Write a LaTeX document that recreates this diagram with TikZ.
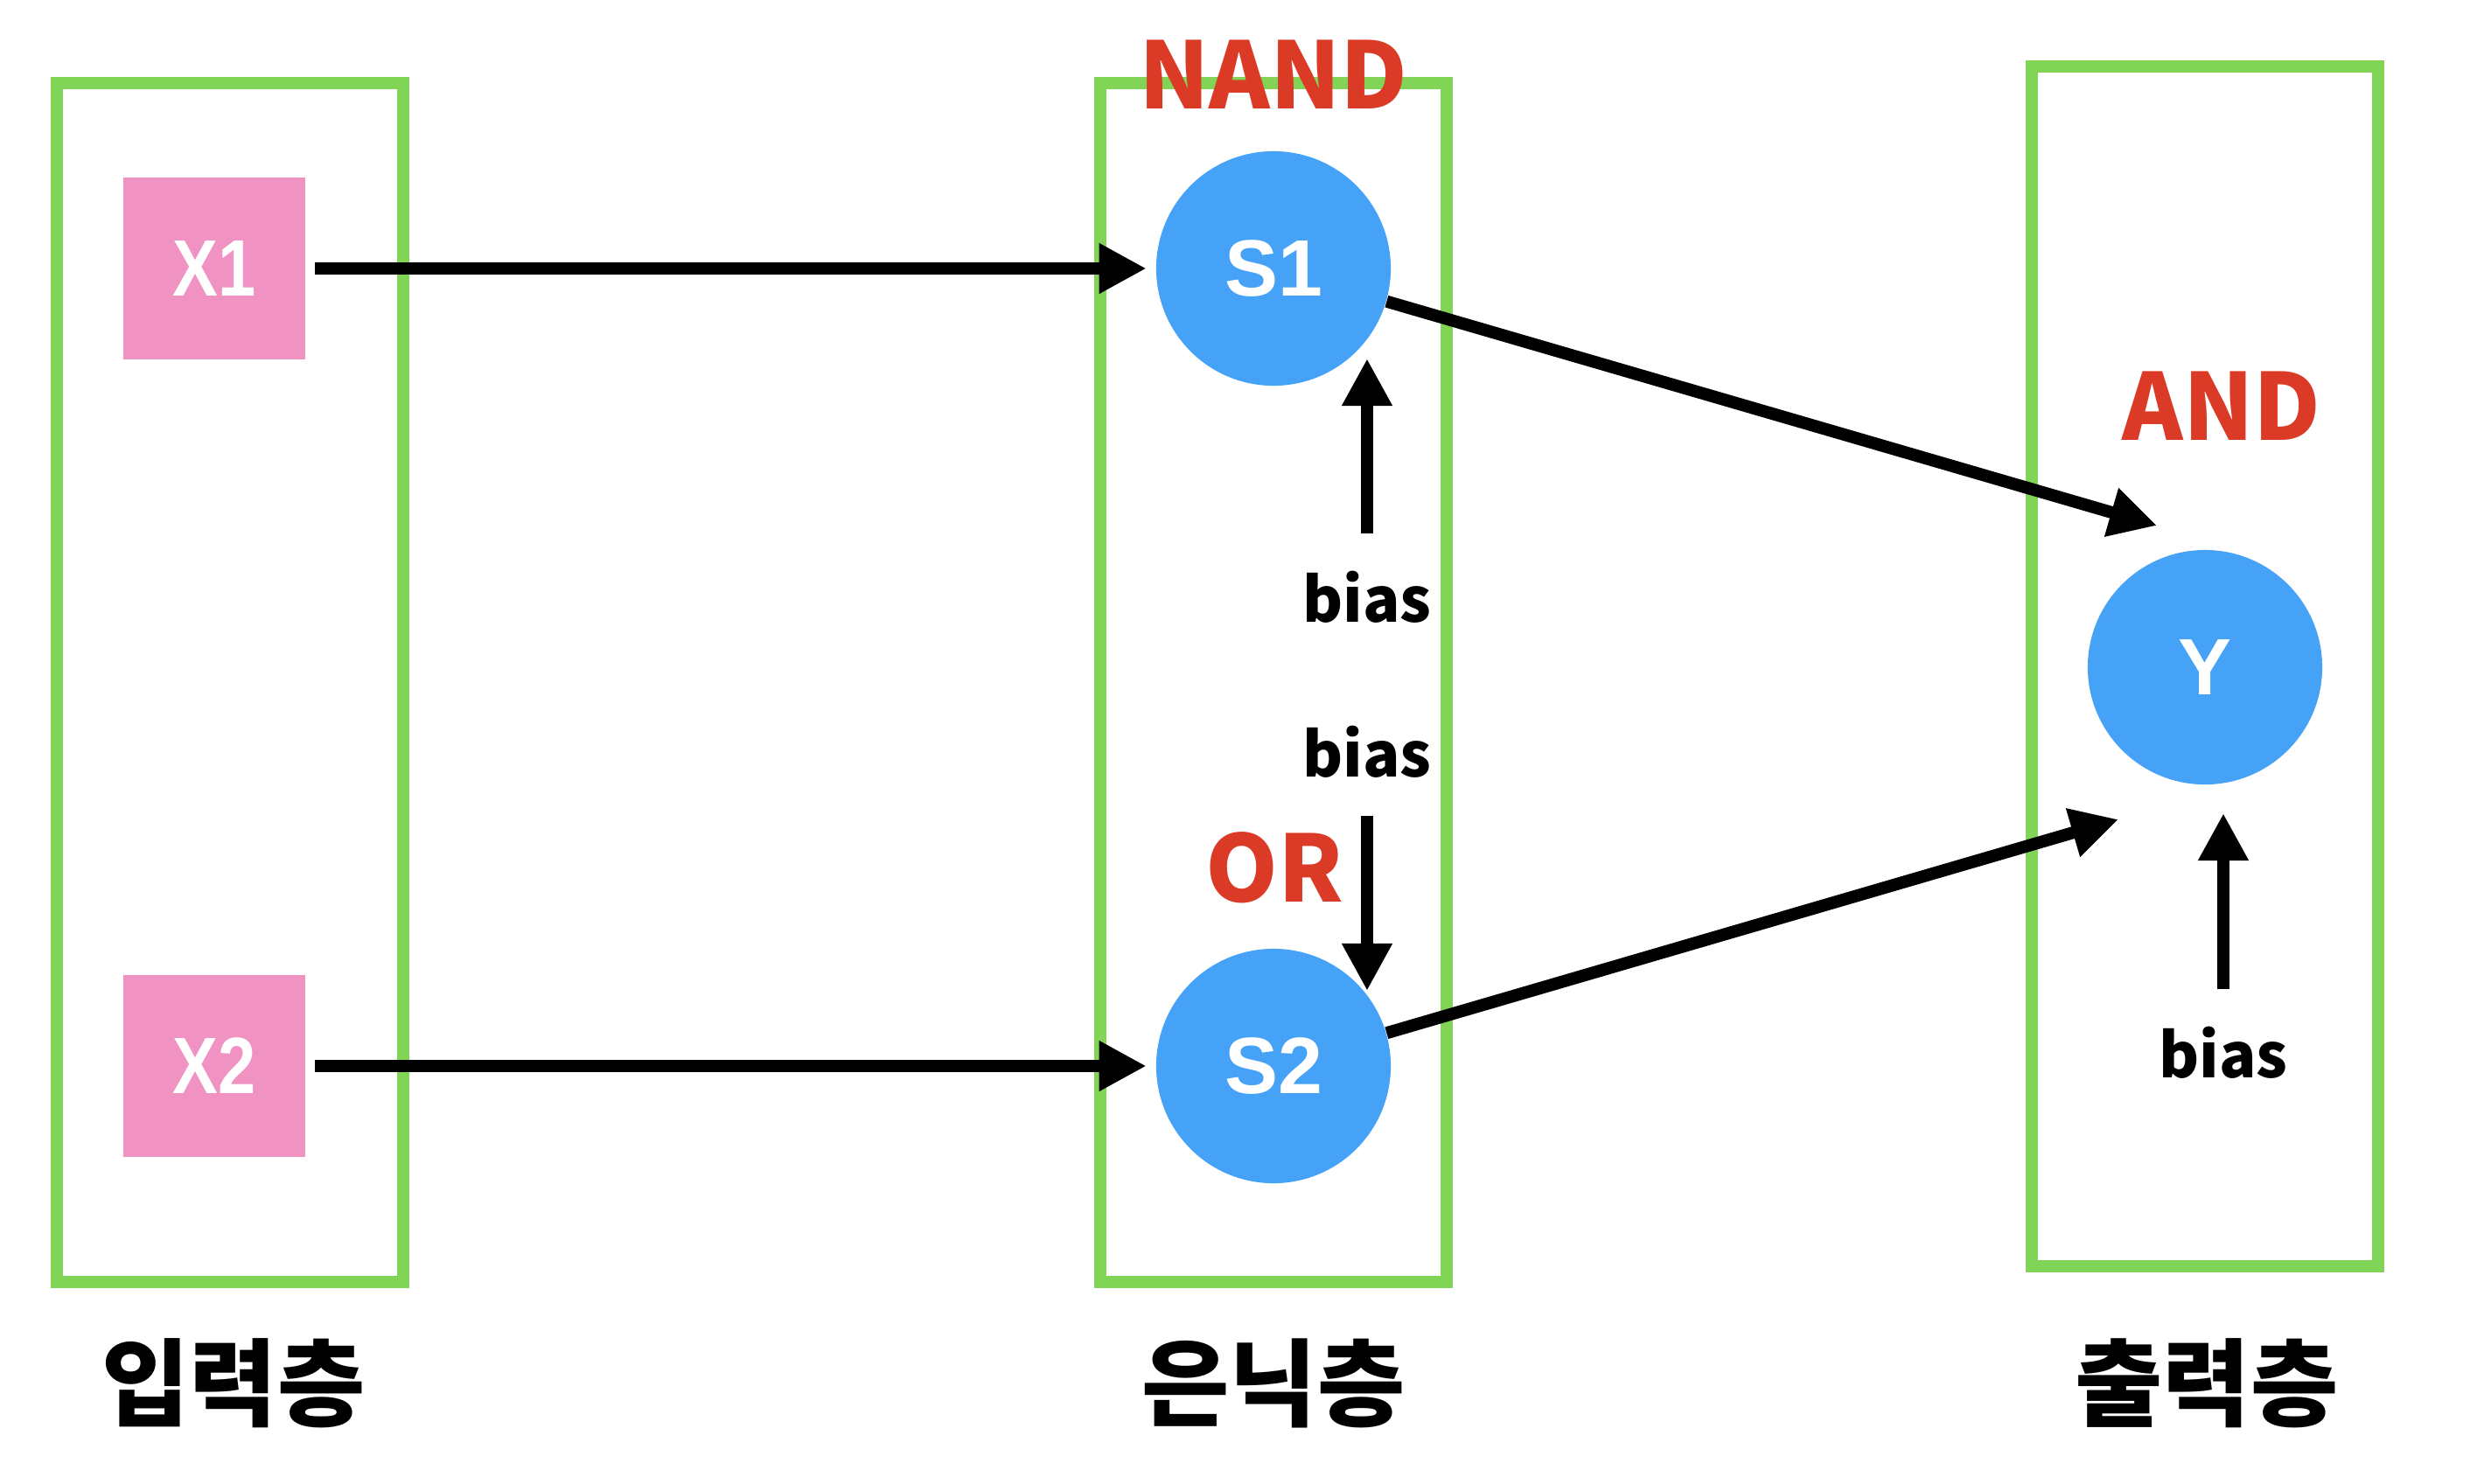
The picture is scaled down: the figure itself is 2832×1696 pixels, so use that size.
\documentclass[tikz,border=0pt]{standalone}
\usepackage{fontspec}
\usepackage{tikz}
\usetikzlibrary{arrows.meta}
\newfontfamily\kofont{Noto Sans CJK KR}
\newfontfamily\unitfont{Liberation Sans}
\newfontfamily\narrowfont{Liberation Sans}[FakeStretch=0.85]
\definecolor{layergreen}{RGB}{130,212,87}
\definecolor{inputpink}{RGB}{240,147,195}
\definecolor{unitblue}{RGB}{69,162,246}
\definecolor{gatered}{RGB}{219,58,39}

\begin{document}
\begin{tikzpicture}
[x=0.01cm, y=-0.01cm,
layer/.style={draw=layergreen, line width=4pt},
input/.style={fill=inputpink, minimum size=2.07cm, inner sep=0pt, text=white, font=\narrowfont\bfseries\fontsize{26}{26}\selectfont},
unit/.style={circle, fill=unitblue, minimum size=2.68cm, inner sep=0pt, text=white, font=\unitfont\bfseries\fontsize{26}{26}\selectfont},
gate/.style={inner sep=0pt, text=gatered, font=\kofont\bfseries\fontsize{30}{30}\selectfont},
biastext/.style={inner sep=0pt, font=\kofont\bfseries\fontsize{20}{20}\selectfont},
layer name/.style={inner sep=0pt, font=\kofont\bfseries\fontsize{31}{31}\selectfont},
link/.style={line width=4pt, -{Triangle[length=15.4pt,width=15.4pt]}}]
\useasboundingbox (0,0) rectangle (2832,1696);
% layers
\draw[layer] (65,95) rectangle (461,1466);
\draw[layer] (1258,95) rectangle (1654,1466);
\draw[layer] (2323,76) rectangle (2719,1448);
% units
\node[input] (x1) at (245,307) {X1};
\node[input] (x2) at (245,1219) {X2};
\node[unit] (s1) at (1456,307) {S1};
\node[unit] (s2) at (1456,1219) {S2};
\node[unit] (y) at (2521,763) {Y};
% gate names
\node[gate] (nand) at (1456,85) {NAND};
\node[gate] (or) at (1457,992) {OR};
\node[gate] (and) at (2540,464) {AND};
% bias
\node[biastext] (bias1) at (1563,683) {bias};
\node[biastext] (bias2) at (1563,860) {bias};
\node[biastext] (bias3) at (2542,1204) {bias};
\coordinate (b1tip) at (1563,410);
\coordinate (b2tip) at (1563,1133);
\coordinate (b3tip) at (2542,930);
\coordinate (ytop) at (2466,601);
\coordinate (ybot) at (2422,937);
% layer names
\node[layer name] (inname) at (267,1582) {입력층};
\node[layer name] (hidname) at (1456,1582) {은닉층};
\node[layer name] (outname) at (2523,1582) {출력층};
% connections
\draw[link, shorten <=3pt, shorten >=3pt] (x1) -- (s1);
\draw[link, shorten <=3pt, shorten >=3pt] (x2) -- (s2);
\draw[link] (s1) -- (ytop);
\draw[link] (s2) -- (ybot);
\draw[link, shorten <=12pt] (bias1) -- (b1tip);
\draw[link, shorten <=12pt] (bias2) -- (b2tip);
\draw[link, shorten <=12pt] (bias3) -- (b3tip);
\end{tikzpicture}
\end{document}
